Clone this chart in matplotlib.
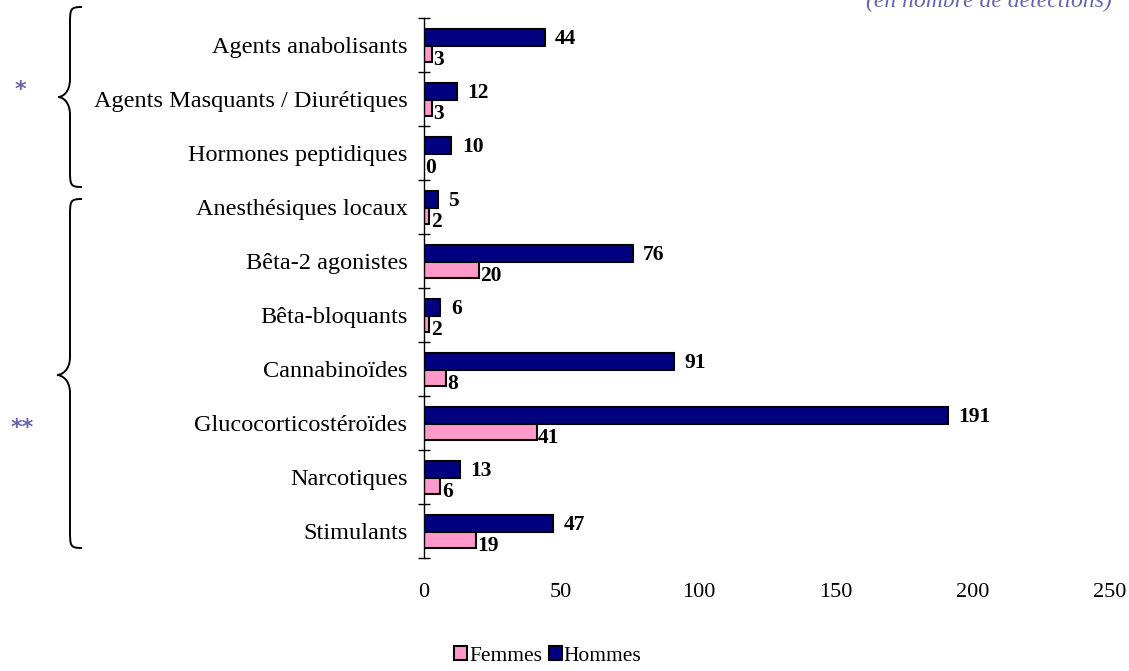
import matplotlib
matplotlib.use("Agg")
import matplotlib.pyplot as plt
import numpy as np
from matplotlib.path import Path
from matplotlib.patches import PathPatch, Patch

categories = [
    "Agents anabolisants",
    "Agents Masquants / Diurétiques",
    "Hormones peptidiques",
    "Anesthésiques locaux",
    "Bêta-2 agonistes",
    "Bêta-bloquants",
    "Cannabinoïdes",
    "Glucocorticostéroïdes",
    "Narcotiques",
    "Stimulants",
]
hommes = [44, 12, 10, 5, 76, 6, 91, 191, 13, 47]
femmes = [3, 3, 0, 2, 20, 2, 8, 41, 6, 19]

W, H = 1129, 671
NAVY = "#000080"
PINK = "#FF99CC"
STAR = "#6666A8"

plt.rcParams["font.family"] = ["Liberation Serif", "DejaVu Serif"]

fig = plt.figure(figsize=(W / 100, H / 100), dpi=100)
ax = fig.add_axes([424 / W, 1 - 558 / H, 686 / W, 540 / H])

y = np.arange(len(categories))
bar_h = 0.3
ax.barh(y - 0.14, hommes, height=bar_h, color=NAVY, edgecolor="black", linewidth=1.5)
ax.barh(y + 0.16, femmes, height=bar_h, color=PINK, edgecolor="black", linewidth=1.5)

for yi, h, f in zip(y, hommes, femmes):
    ax.annotate(str(h), (h, yi - 0.11), xytext=(7.5, 0), textcoords="offset points",
                ha="left", va="center", fontsize=15.5, fontweight="bold")
    ax.annotate(str(f), (f, yi + 0.28), xytext=(1, 0), textcoords="offset points",
                ha="left", va="center", fontsize=15.5, fontweight="bold")

ax.set_xlim(0, 250)
ax.set_ylim(len(categories) - 0.5, -0.5)
ax.set_xticks([0, 50, 100, 150, 200, 250])
ax.set_yticks(y)
ax.set_yticklabels(categories, fontsize=17.5)
ax.set_yticks(np.arange(len(categories) + 1) - 0.5, minor=True)
ax.tick_params(axis="y", which="major", length=0, pad=12)
ax.tick_params(axis="y", which="minor", direction="inout", length=9, width=1)
ax.tick_params(axis="x", length=0, labelsize=16, pad=18)
for side in ["top", "right", "bottom"]:
    ax.spines[side].set_visible(False)
ax.spines["left"].set_linewidth(1)


def brace(x_spine, y_top, y_tip, y_bot, x_tip, x_end):
    # curly brace pointing left, coordinates in pixels from the top-left corner
    r = 18
    pts = [
        (x_end, y_top),
        (x_spine, y_top), (x_spine, y_top + 2), (x_spine, y_top + r),
        (x_spine, y_tip - r),
        (x_spine, y_tip - 4), (x_tip + 4, y_tip), (x_tip, y_tip),
        (x_tip + 4, y_tip), (x_spine, y_tip + 4), (x_spine, y_tip + r),
        (x_spine, y_bot - r),
        (x_spine, y_bot - 2), (x_spine, y_bot), (x_end, y_bot),
    ]
    codes = [Path.MOVETO,
             Path.CURVE4, Path.CURVE4, Path.CURVE4,
             Path.LINETO,
             Path.CURVE4, Path.CURVE4, Path.CURVE4,
             Path.CURVE4, Path.CURVE4, Path.CURVE4,
             Path.LINETO,
             Path.CURVE4, Path.CURVE4, Path.CURVE4]
    verts = [(px / W, 1 - py / H) for px, py in pts]
    fig.add_artist(PathPatch(Path(verts, codes), transform=fig.transFigure,
                             fill=False, edgecolor="black", linewidth=1.4))


brace(70, 7, 97, 187, 58, 82)
brace(70, 199, 375, 548, 57, 82)

fig.text(20 / W, 1 - 90 / H, "*", color=STAR, fontsize=16, fontweight="bold",
         ha="center", va="center", family="DejaVu Sans")
fig.text(22 / W, 1 - 428 / H, "**", color=STAR, fontsize=16, fontweight="bold",
         ha="center", va="center", family="DejaVu Sans")

fig.text(866 / W, 1 - 1 / H, "(en nombre de détections)", color=STAR,
         fontsize=17, style="italic", ha="left", va="center")

handles = [Patch(facecolor=PINK, edgecolor="black", linewidth=1.5),
           Patch(facecolor=NAVY, edgecolor="black", linewidth=1.5)]
fig.legend(handles, ["Femmes", "Hommes"], loc="center", bbox_to_anchor=(548 / W, 1 - 656 / H),
           ncol=2, frameon=False, fontsize=15.5, handlelength=0.6, handleheight=0.6,
           handletextpad=0.1, columnspacing=0.3)

fig.savefig("out.png", dpi=100)
